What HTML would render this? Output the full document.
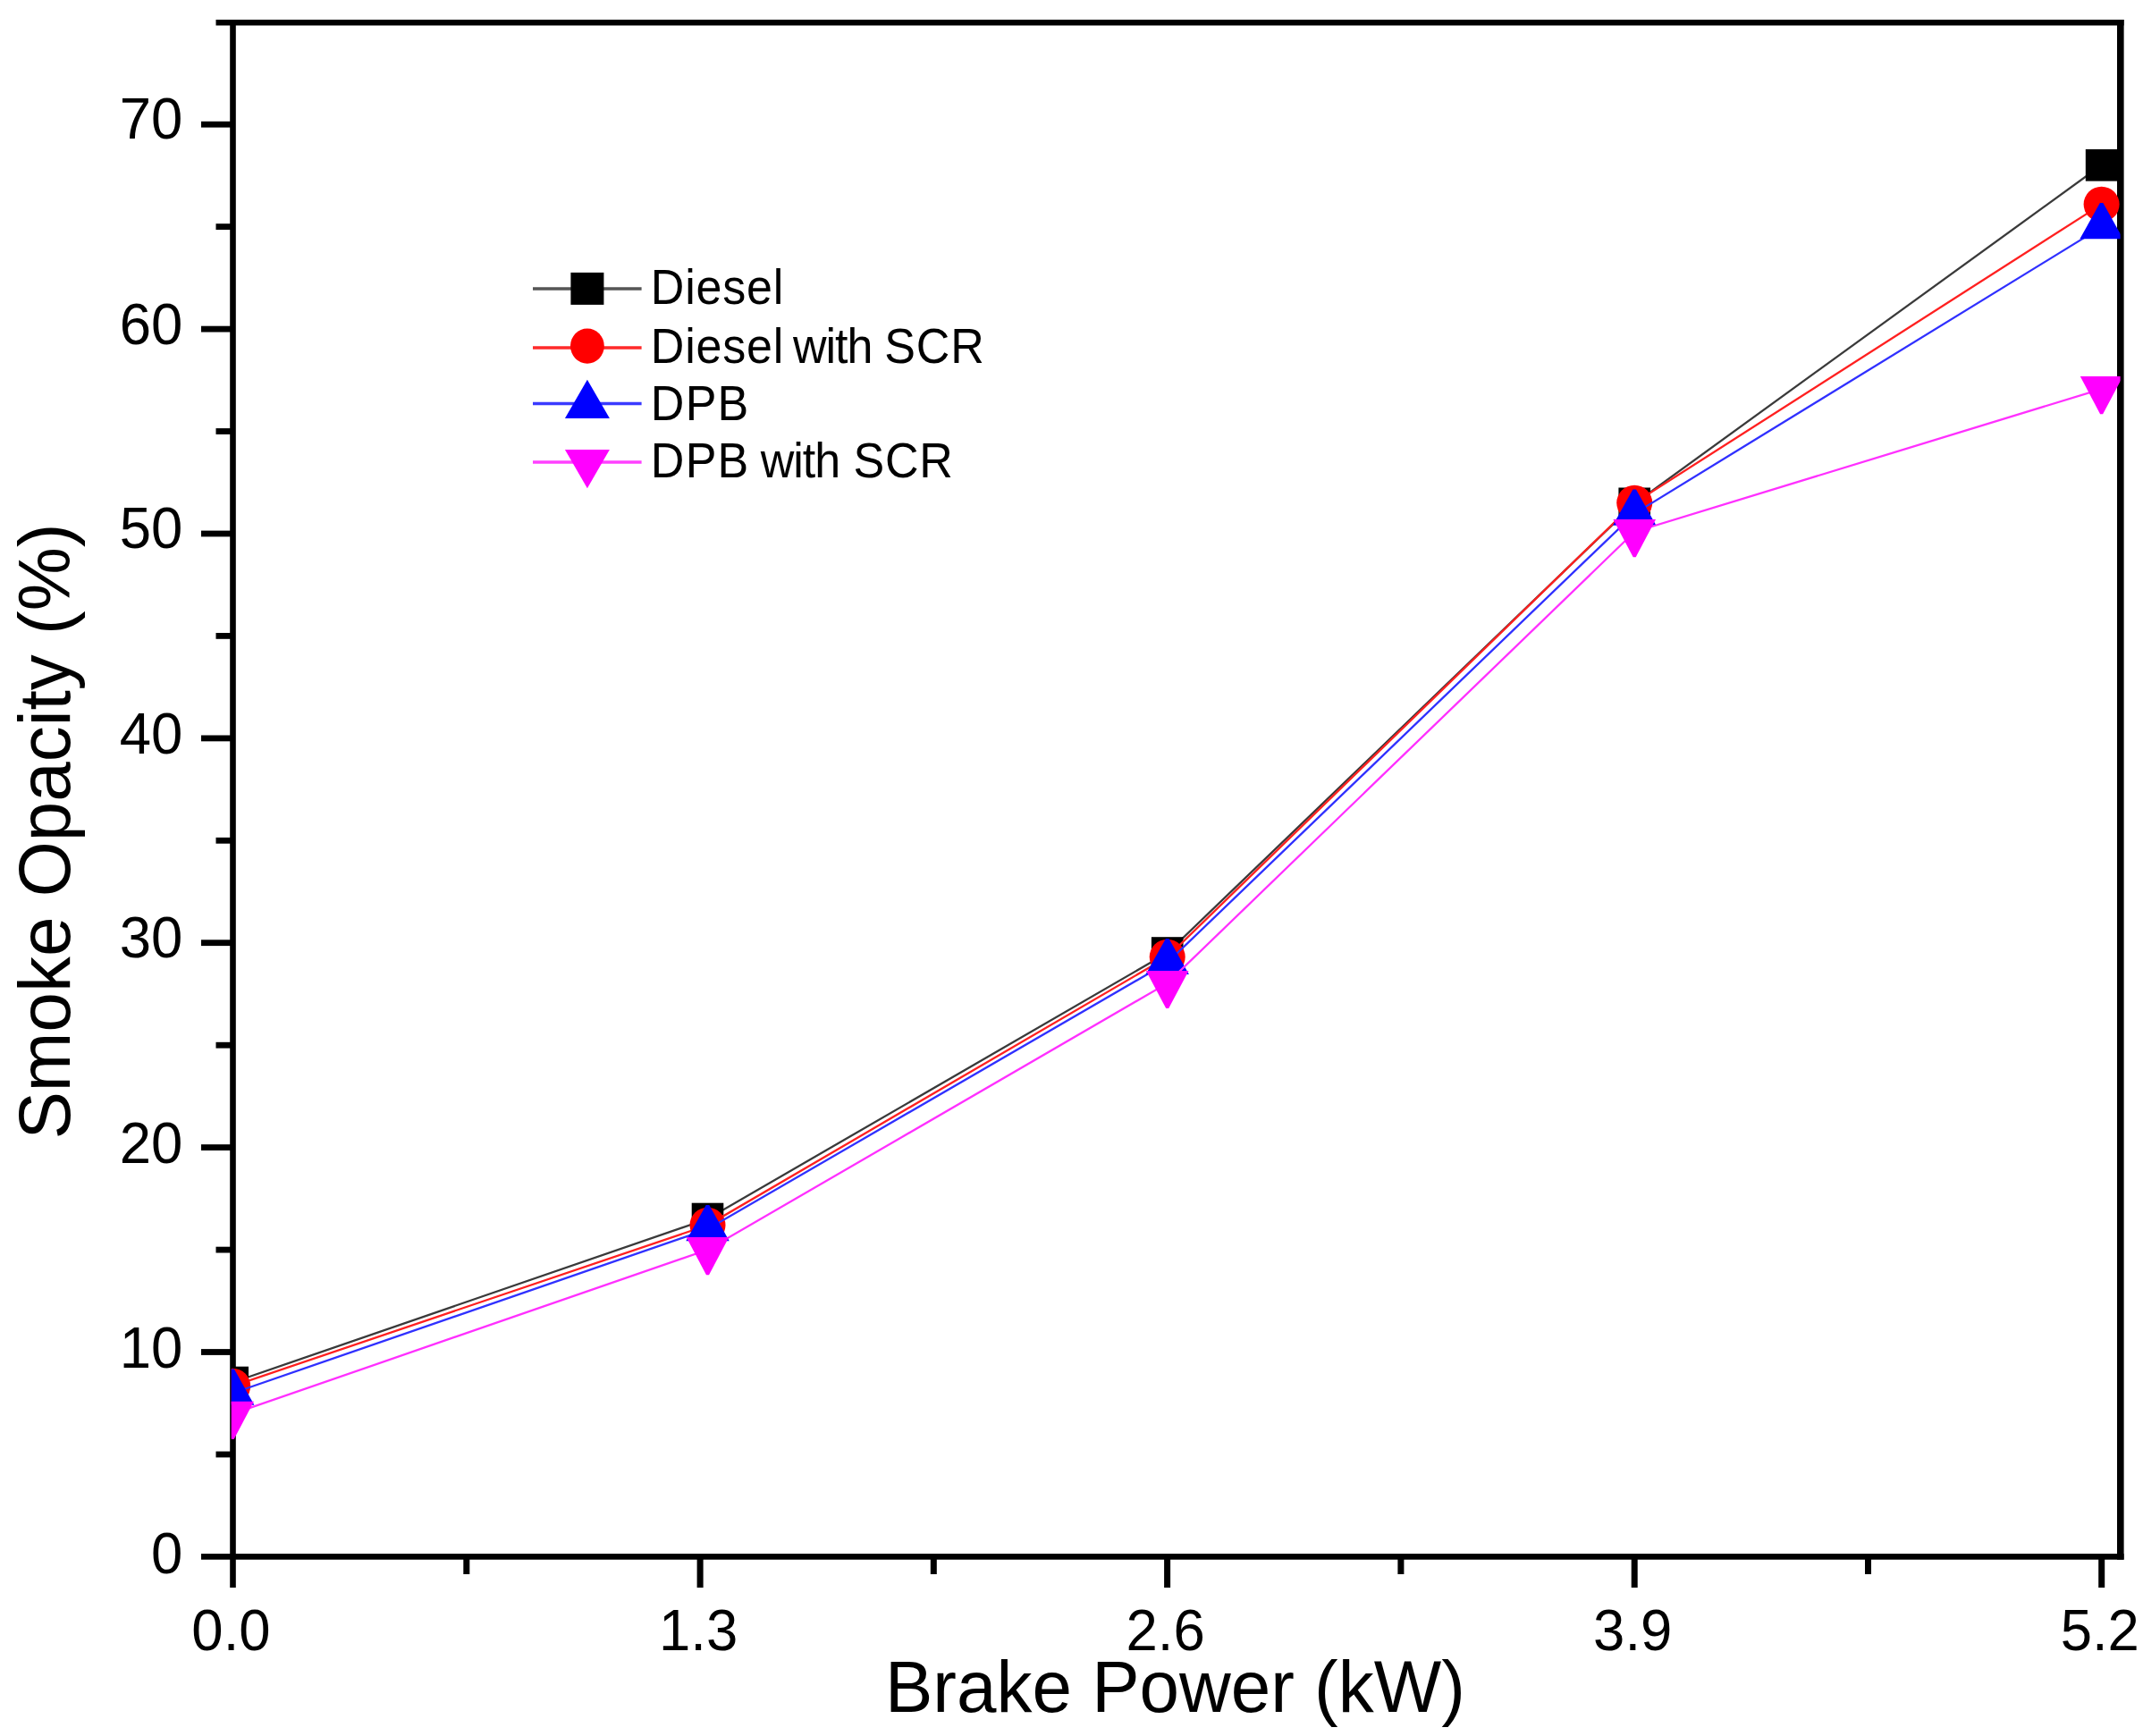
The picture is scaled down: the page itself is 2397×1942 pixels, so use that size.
<!DOCTYPE html>
<html lang="en"><head><meta charset="utf-8"><title>Smoke Opacity vs Brake Power</title>
<style>html,body{margin:0;padding:0;background:#fff}body{width:2397px;height:1942px;overflow:hidden}svg{display:block}text{font-family:"Liberation Sans",Arial,Helvetica,sans-serif;fill:#000}.tk{font-size:63.5px}.ti{font-size:80px}.lg{font-size:52px}</style></head><body>
<svg width="2397" height="1942" viewBox="0 0 2397 1942">
<rect width="2397" height="1942" fill="#fff"/>
<defs><clipPath id="pc"><rect x="258.7" y="22" width="2112.9" height="1723"/></clipPath></defs>
<g fill="#000">
<rect x="257.2" y="22" width="6.6" height="1754"/>
<rect x="225" y="1738.1" width="2150.6" height="6.6"/>
<rect x="241.5" y="22" width="2134.1" height="6.5"/>
<rect x="2368" y="22" width="7.6" height="1722.7"/>
<rect x="241.5" y="1623.6" width="16.5" height="6.8"/>
<rect x="225" y="1509.1" width="33" height="6.8"/>
<rect x="241.5" y="1394.7" width="16.5" height="6.8"/>
<rect x="225" y="1280.2" width="33" height="6.8"/>
<rect x="241.5" y="1165.8" width="16.5" height="6.8"/>
<rect x="225" y="1051.3" width="33" height="6.8"/>
<rect x="241.5" y="936.9" width="16.5" height="6.8"/>
<rect x="225" y="822.5" width="33" height="6.8"/>
<rect x="241.5" y="708.0" width="16.5" height="6.8"/>
<rect x="225" y="593.6" width="33" height="6.8"/>
<rect x="241.5" y="479.1" width="16.5" height="6.8"/>
<rect x="225" y="364.7" width="33" height="6.8"/>
<rect x="241.5" y="250.2" width="16.5" height="6.8"/>
<rect x="225" y="135.8" width="33" height="6.8"/>
<rect x="518.3" y="1744" width="7" height="17"/>
<rect x="779.6" y="1744" width="7" height="32"/>
<rect x="1040.8" y="1744" width="7" height="17"/>
<rect x="1302.1" y="1744" width="7" height="32"/>
<rect x="1563.4" y="1744" width="7" height="17"/>
<rect x="1824.7" y="1744" width="7" height="32"/>
<rect x="2086.0" y="1744" width="7" height="17"/>
<rect x="2347.2" y="1744" width="7" height="32"/>
</g>
<g class="tk" text-anchor="end">
<text transform="translate(204.4,1759.8) scale(1,1.035)">0</text>
<text transform="translate(204.4,1529.7) scale(1,1.035)">10</text>
<text transform="translate(204.4,1301.1) scale(1,1.035)">20</text>
<text transform="translate(204.4,1070.7) scale(1,1.035)">30</text>
<text transform="translate(204.4,843.3) scale(1,1.035)">40</text>
<text transform="translate(204.4,612.6) scale(1,1.035)">50</text>
<text transform="translate(204.4,384.8) scale(1,1.035)">60</text>
<text transform="translate(204.4,155.3) scale(1,1.035)">70</text>
</g>
<g class="tk" text-anchor="middle">
<text transform="translate(258.5,1846.2) scale(1,1.035)">0.0</text>
<text transform="translate(781.1,1846.2) scale(1,1.035)">1.3</text>
<text transform="translate(1303.6,1846.2) scale(1,1.035)">2.6</text>
<text transform="translate(1826.2,1846.2) scale(1,1.035)">3.9</text>
<text transform="translate(2348.8,1846.2) scale(1,1.035)">5.2</text>
</g>
<text class="ti" transform="translate(990,1915.2) scale(1,1.023)">Brake Power (kW)</text>
<text class="ti" transform="translate(77.8,1274.5) rotate(-90) scale(1,1.023)">Smoke Opacity (%)</text>
<g clip-path="url(#pc)">
<polyline points="260.2,1546.5 791.5,1363.5 1305.7,1066.0 1828.2,563.3 2350.6,184.8" fill="none" stroke="#3a3a3a" stroke-width="2.3"/>
<rect x="242.4" y="1528.7" width="35.6" height="35.6" fill="#000000"/>
<rect x="773.7" y="1345.7" width="35.6" height="35.6" fill="#000000"/>
<rect x="1287.9" y="1048.2" width="35.6" height="35.6" fill="#000000"/>
<rect x="1810.4" y="545.5" width="35.6" height="35.6" fill="#000000"/>
<rect x="2332.8" y="167.0" width="35.6" height="35.6" fill="#000000"/>
<polyline points="260.2,1550.6 791.5,1370.6 1305.7,1070.6 1828.2,562.6 2350.6,228.6" fill="none" stroke="#ff2020" stroke-width="2.3"/>
<ellipse cx="260.2" cy="1550.6" rx="20" ry="19.8" fill="#ff0000"/>
<ellipse cx="791.5" cy="1370.6" rx="20" ry="19.8" fill="#ff0000"/>
<ellipse cx="1305.7" cy="1070.6" rx="20" ry="19.8" fill="#ff0000"/>
<ellipse cx="1828.2" cy="562.6" rx="20" ry="19.8" fill="#ff0000"/>
<ellipse cx="2350.6" cy="228.6" rx="20" ry="19.8" fill="#ff0000"/>
<polyline points="260.2,1558.5 791.5,1375.0 1305.7,1076.9 1828.2,574.6 2350.6,254.1" fill="none" stroke="#3030ff" stroke-width="2.3"/>
<polygon points="258.4,1531.5 262.0,1531.5 284.4,1571.7 236.0,1571.7" fill="#0000ff"/>
<polygon points="789.7,1348.0 793.3,1348.0 815.7,1388.2 767.3,1388.2" fill="#0000ff"/>
<polygon points="1303.9,1049.9 1307.5,1049.9 1329.9,1090.1 1281.5,1090.1" fill="#0000ff"/>
<polygon points="1826.4,547.6 1830.0,547.6 1852.4,587.8 1804.0,587.8" fill="#0000ff"/>
<polygon points="2348.8,227.1 2352.4,227.1 2374.8,267.3 2326.4,267.3" fill="#0000ff"/>
<polyline points="260.2,1581.7 791.5,1398.0 1305.7,1099.9 1828.2,595.0 2350.6,435.1" fill="none" stroke="#ff30ff" stroke-width="2.3"/>
<polygon points="258.7,1609.9 261.7,1609.9 284.0,1567.7 236.4,1567.7" fill="#ff00ff"/>
<polygon points="790.0,1426.2 793.0,1426.2 815.3,1384.0 767.7,1384.0" fill="#ff00ff"/>
<polygon points="1304.2,1128.1 1307.2,1128.1 1329.5,1085.9 1281.9,1085.9" fill="#ff00ff"/>
<polygon points="1826.7,623.2 1829.7,623.2 1852.0,581.0 1804.4,581.0" fill="#ff00ff"/>
<polygon points="2349.1,463.3 2352.1,463.3 2374.4,421.1 2326.8,421.1" fill="#ff00ff"/>
</g>
<line x1="596" y1="323.1" x2="717.6" y2="323.1" stroke="#555555" stroke-width="3.5"/>
<rect x="638.4" y="304.9" width="37" height="36" fill="#000000"/>
<text class="lg" transform="translate(0,340.4) scale(1,1.05)"><tspan x="727.8" letter-spacing="0.8">Diesel</tspan></text>
<line x1="596" y1="388.9" x2="717.6" y2="388.9" stroke="#ff2a2a" stroke-width="3.5"/>
<ellipse cx="656.9" cy="387.1" rx="18.9" ry="19.6" fill="#ff0000"/>
<text class="lg" transform="translate(0,406.1) scale(1,1.05)"><tspan x="727.8" letter-spacing="0.8">Diesel</tspan> <tspan x="887.0" letter-spacing="-1">with</tspan> <tspan x="989.2" letter-spacing="0.9">SCR</tspan></text>
<line x1="596" y1="451.4" x2="717.6" y2="451.4" stroke="#3a3aff" stroke-width="3.5"/>
<polygon points="656.9,424.8 631.9,468.0 681.9,468.0" fill="#0000ff"/>
<text class="lg" transform="translate(0,470.0) scale(1,1.05)"><tspan x="727.8" letter-spacing="1.3">DPB</tspan></text>
<line x1="596" y1="517.0" x2="717.6" y2="517.0" stroke="#ff40ff" stroke-width="3.5"/>
<polygon points="656.9,546.3 631.9,502.9 681.9,502.9" fill="#ff00ff"/>
<text class="lg" transform="translate(0,534.2) scale(1,1.05)"><tspan x="727.8" letter-spacing="1.3">DPB</tspan> <tspan x="850.7" letter-spacing="-1">with</tspan> <tspan x="954.6" letter-spacing="0.7">SCR</tspan></text>
</svg></body></html>
